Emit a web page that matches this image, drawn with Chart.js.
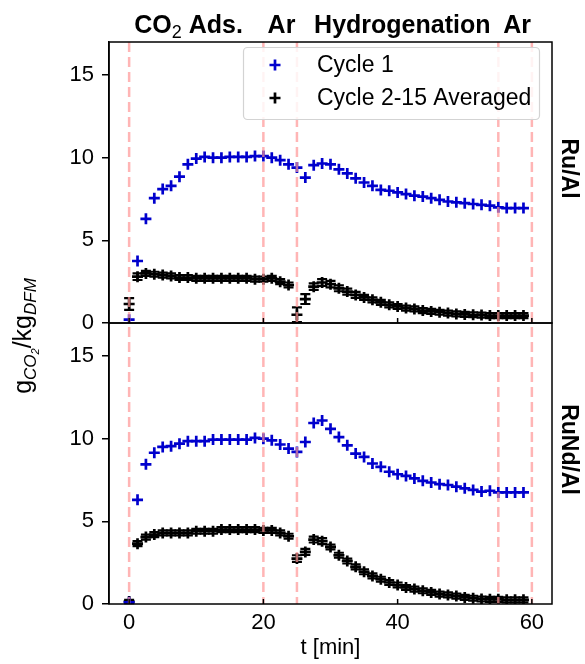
<!DOCTYPE html>
<html>
<head>
<meta charset="utf-8">
<script src="https://cdn.jsdelivr.net/npm/chart.js@4.4.1/dist/chart.umd.min.js"></script>
<style>
  html, body { margin: 0; padding: 0; background: #fff; }
  #wrap { width: 585px; height: 664px; }
</style>
</head>
<body>
<div id="wrap"><canvas id="chart" width="585" height="664"></canvas></div>
<script>
// time axis (min)
var times = [0, 1.25, 2.5, 3.75, 5, 6.25, 7.5, 8.75, 10, 11.25, 12.5, 13.75, 15, 16.25, 17.5, 18.75,
  20, 21.25, 22.5, 23.75, 25, 26.25, 27.5, 28.75, 30, 31.25, 32.5, 33.75, 35, 36.25, 37.5, 38.75,
  40, 41.25, 42.5, 43.75, 45, 46.25, 47.5, 48.75, 50, 51.25, 52.5, 53.75, 55, 56.25, 57.5, 58.75];

// Ru/Al panel
var ruCycle1 = [0.2, 3.75, 6.3, 7.55, 8.1, 8.3, 8.85, 9.6, 9.95, 10.05, 10.0, 10.0, 10.05, 10.05, 10.05, 10.1,
  10.1, 10.0, 9.85, 9.6, 9.4, 8.8, 9.55, 9.65, 9.6, 9.3, 9.05, 8.75, 8.5, 8.3, 8.05, 8.0,
  7.9, 7.8, 7.7, 7.65, 7.55, 7.45, 7.35, 7.3, 7.25, 7.2, 7.15, 7.1, 7.0, 6.95, 6.95, 6.95];
var ruAvg = [1.15, 2.8, 3.0, 2.95, 2.9, 2.85, 2.75, 2.75, 2.7, 2.7, 2.7, 2.7, 2.7, 2.7, 2.7, 2.65,
  2.65, 2.7, 2.5, 2.3, 0.5, 1.45, 2.2, 2.45, 2.35, 2.1, 1.9, 1.7, 1.55, 1.4, 1.25, 1.1,
  1.0, 0.9, 0.85, 0.75, 0.7, 0.65, 0.6, 0.55, 0.52, 0.5, 0.48, 0.45, 0.45, 0.45, 0.45, 0.45];
var ruAvgErr = [0.35, 0.2, 0.15, 0.15, 0.15, 0.15, 0.15, 0.15, 0.15, 0.15, 0.15, 0.15, 0.15, 0.15, 0.15, 0.15,
  0.15, 0.15, 0.15, 0.15, 0.45, 0.3, 0.2, 0.2, 0.2, 0.18, 0.18, 0.18, 0.15, 0.15, 0.15, 0.15,
  0.15, 0.15, 0.15, 0.15, 0.15, 0.15, 0.15, 0.15, 0.15, 0.15, 0.15, 0.15, 0.15, 0.15, 0.15, 0.15];

// RuNd/Al panel
var ruNdCycle1 = [0.1, 6.3, 8.45, 9.15, 9.5, 9.55, 9.7, 9.85, 9.85, 9.85, 9.95, 9.95, 9.95, 9.95, 9.95, 10.05,
  10.0, 9.9, 9.65, 9.4, 9.2, 9.8, 10.95, 11.1, 10.6, 10.1, 9.6, 9.1, 8.9, 8.5, 8.3, 8.0,
  7.85, 7.75, 7.6, 7.45, 7.35, 7.25, 7.2, 7.1, 7.0, 6.9, 6.8, 6.85, 6.75, 6.75, 6.75, 6.75];
var ruNdAvg = [0.15, 3.65, 4.05, 4.2, 4.3, 4.3, 4.3, 4.3, 4.4, 4.4, 4.4, 4.5, 4.5, 4.5, 4.5, 4.5,
  4.45, 4.45, 4.3, 4.1, 2.75, 3.15, 3.9, 3.8, 3.45, 2.95, 2.6, 2.25, 1.95, 1.7, 1.5, 1.3,
  1.15, 1.0, 0.9, 0.8, 0.7, 0.6, 0.55, 0.48, 0.4, 0.35, 0.3, 0.28, 0.28, 0.25, 0.25, 0.25];
var ruNdAvgErr = [0.1, 0.15, 0.15, 0.15, 0.15, 0.15, 0.15, 0.15, 0.15, 0.15, 0.15, 0.15, 0.15, 0.15, 0.15, 0.15,
  0.15, 0.15, 0.15, 0.15, 0.2, 0.18, 0.18, 0.18, 0.15, 0.15, 0.15, 0.15, 0.15, 0.15, 0.15, 0.15,
  0.15, 0.15, 0.15, 0.15, 0.15, 0.15, 0.15, 0.15, 0.15, 0.15, 0.15, 0.15, 0.15, 0.15, 0.15, 0.15];

var seriesNames = ['Cycle 1', 'Cycle 2-15 Averaged'];
var panelNames = ['Ru/Al', 'RuNd/Al'];
var phaseLines = [0, 20, 25, 55, 60];
var phaseLabels = ['CO₂ Ads.', 'Ar', 'Hydrogenation', 'Ar'];
var phaseLabelAt = [8.85, 22.7, 40.7, 57.8];
var xTicks = [0, 20, 40, 60];
var yTicks = [0, 5, 10, 15];

var BLUE = '#0000cd';
var FONT = "'Liberation Sans', Arial, sans-serif";
Chart.defaults.font.family = FONT;
Chart.defaults.color = '#000';

function points(ys) {
  return times.map(function (t, i) { return { x: t, y: ys[i] }; });
}

// draws text made of parts (used for subscripts), centred on x
function richText(ctx, parts, x, y) {
  var total = 0;
  parts.forEach(function (p) { ctx.font = p.font; p.w = ctx.measureText(p.text).width; total += p.w; });
  var cx = x - total / 2;
  ctx.textAlign = 'left';
  ctx.textBaseline = 'alphabetic';
  parts.forEach(function (p) {
    ctx.font = p.font;
    ctx.fillText(p.text, cx, y + (p.dy || 0));
    cx += p.w;
  });
}

function cross(ctx, x, y, r) {
  ctx.beginPath();
  ctx.moveTo(x - r, y); ctx.lineTo(x + r, y);
  ctx.moveTo(x, y - r); ctx.lineTo(x, y + r);
  ctx.stroke();
}

var decor = {
  id: 'decor',
  beforeDatasetsDraw: function (chart) {
    var ctx = chart.ctx;
    ctx.save();
    chart.data.datasets.forEach(function (ds, i) {
      if (!ds.errors) return;
      var meta = chart.getDatasetMeta(i);
      var ys = chart.scales[ds.yAxisID];
      ctx.strokeStyle = '#000';
      ctx.lineWidth = 2.2;
      meta.data.forEach(function (pt, j) {
        var v = ds.data[j].y, e = ds.errors[j];
        var top = ys.getPixelForValue(v + e), bot = ys.getPixelForValue(v - e);
        ctx.beginPath();
        ctx.moveTo(pt.x, top); ctx.lineTo(pt.x, bot);
        ctx.moveTo(pt.x - 5, top); ctx.lineTo(pt.x + 5, top);
        ctx.moveTo(pt.x - 5, bot); ctx.lineTo(pt.x + 5, bot);
        ctx.stroke();
      });
    });
    ctx.restore();
  },
  afterDatasetsDraw: function (chart) {
    var ctx = chart.ctx, a = chart.chartArea, xs = chart.scales.x;
    ctx.save();
    // phase boundaries
    ctx.strokeStyle = 'rgba(255,150,150,0.7)';
    ctx.lineWidth = 2.5;
    ctx.setLineDash([10, 5]);
    phaseLines.forEach(function (t) {
      var px = xs.getPixelForValue(t);
      ctx.beginPath(); ctx.moveTo(px, a.top); ctx.lineTo(px, a.bottom); ctx.stroke();
    });
    ctx.setLineDash([]);
    // panel frames + inward x ticks
    ctx.strokeStyle = '#000';
    ctx.lineWidth = 1.5;
    ['yTop', 'yBot'].forEach(function (id) {
      var s = chart.scales[id];
      ctx.strokeRect(a.left, s.top, a.right - a.left, s.bottom - s.top);
      xTicks.forEach(function (t) {
        var px = xs.getPixelForValue(t);
        ctx.beginPath(); ctx.moveTo(px, s.bottom); ctx.lineTo(px, s.bottom - 5); ctx.stroke();
      });
    });
    ctx.restore();
  },
  afterDraw: function (chart) {
    var ctx = chart.ctx, xs = chart.scales.x;
    ctx.save();
    ctx.fillStyle = '#000';
    // phase labels above the plot
    phaseLabels.forEach(function (lab, i) {
      var px = xs.getPixelForValue(phaseLabelAt[i]);
      var bits = lab.split('₂');
      var parts = [{ text: bits[0], font: 'bold 25px ' + FONT }];
      if (bits.length > 1) {
        parts.push({ text: '2', font: '18px ' + FONT, dy: 5 });
        parts.push({ text: bits[1], font: 'bold 25px ' + FONT });
      }
      richText(ctx, parts, px, 33);
    });
    // panel names on the right
    ['yTop', 'yBot'].forEach(function (id, i) {
      var s = chart.scales[id];
      ctx.save();
      ctx.translate(568, (s.top + s.bottom) / 2 - 14);
      ctx.rotate(Math.PI / 2);
      ctx.font = 'bold 23px ' + FONT;
      ctx.textAlign = 'center';
      ctx.textBaseline = 'middle';
      ctx.fillText(panelNames[i], 0, 0);
      ctx.restore();
    });
    // y label
    ctx.save();
    ctx.translate(31, 336);
    ctx.rotate(-Math.PI / 2);
    richText(ctx, [
      { text: 'g', font: '25px ' + FONT },
      { text: 'CO', font: 'italic 17px ' + FONT, dy: 5 },
      { text: '2', font: 'italic 11px ' + FONT, dy: 8 },
      { text: '/kg', font: '25px ' + FONT },
      { text: 'DFM', font: 'italic 17px ' + FONT, dy: 5 }
    ], 0, 0);
    ctx.restore();
    // legend
    var lx = 243.5, ly = 47.5, lw = 296, lh = 72;
    ctx.beginPath();
    ctx.roundRect(lx, ly, lw, lh, 4);
    ctx.fillStyle = 'rgba(255,255,255,0.85)';
    ctx.fill();
    ctx.strokeStyle = '#d3d3d3';
    ctx.lineWidth = 1.2;
    ctx.stroke();
    chart.data.datasets.slice(0, 2).forEach(function (ds, i) {
      var y = 65 + i * 33;
      ctx.strokeStyle = ds.borderColor;
      ctx.lineWidth = 2.7;
      cross(ctx, 275, y, 5.5);
      ctx.fillStyle = '#000';
      ctx.font = '23px ' + FONT;
      ctx.textAlign = 'left';
      ctx.textBaseline = 'middle';
      ctx.fillText(ds.label, 317, y + 1);
    });
    ctx.restore();
  }
};

function yScale() {
  return {
    type: 'linear',
    stack: 'panels',
    stackWeight: 1,
    offset: false,
    min: 0,
    max: 17,
    afterFit: function (s) { s.width = 109; },
    afterBuildTicks: function (s) { s.ticks = yTicks.map(function (v) { return { value: v }; }); },
    grid: { drawOnChartArea: false, tickLength: 7, color: '#000', lineWidth: 1.5 },
    border: { color: '#000', width: 1.5 },
    ticks: { font: { size: 22 }, padding: 8, color: '#000' }
  };
}

var chart = new Chart(document.getElementById('chart'), {
  type: 'scatter',
  data: {
    datasets: [
      { label: seriesNames[0], data: points(ruCycle1), yAxisID: 'yTop',
        pointStyle: 'cross', pointRadius: 5.5, borderColor: BLUE, borderWidth: 2.7, showLine: false },
      { label: seriesNames[1], data: points(ruAvg), errors: ruAvgErr, yAxisID: 'yTop',
        pointStyle: 'cross', pointRadius: 5.5, borderColor: '#000', borderWidth: 2.7, showLine: false },
      { label: seriesNames[0], data: points(ruNdCycle1), yAxisID: 'yBot',
        pointStyle: 'cross', pointRadius: 5.5, borderColor: BLUE, borderWidth: 2.7, showLine: false },
      { label: seriesNames[1], data: points(ruNdAvg), errors: ruNdAvgErr, yAxisID: 'yBot',
        pointStyle: 'cross', pointRadius: 5.5, borderColor: '#000', borderWidth: 2.7, showLine: false }
    ]
  },
  options: {
    responsive: false,
    animation: false,
    layout: { padding: { top: 42, right: 33, left: 0, bottom: 0 } },
    plugins: { legend: { display: false }, tooltip: { enabled: false } },
    scales: {
      x: {
        type: 'linear',
        min: -3,
        max: 63,
        afterFit: function (s) { s.height = 60; },
        afterBuildTicks: function (s) { s.ticks = xTicks.map(function (v) { return { value: v }; }); },
        grid: { display: false },
        border: { display: false },
        ticks: { font: { size: 22 }, padding: -2, color: '#000' },
        title: { display: true, text: 't [min]', font: { size: 22 }, color: '#000', padding: { top: 0, bottom: 3 } }
      },
      yBot: yScale(),
      yTop: yScale()
    }
  },
  plugins: [decor]
});
</script>
</body>
</html>
